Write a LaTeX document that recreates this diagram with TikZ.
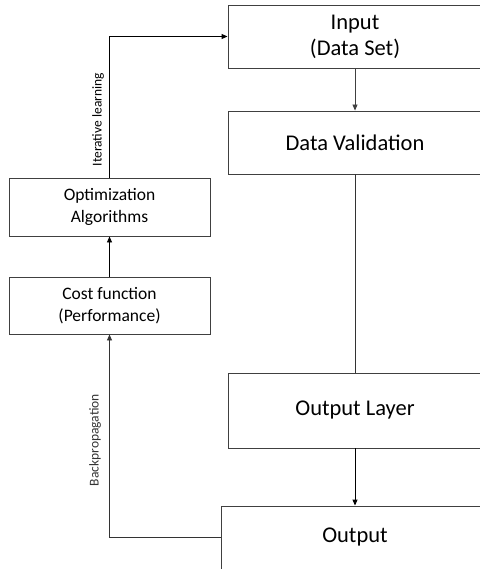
\documentclass[tikz,border=0pt]{standalone}
\usepackage{fontspec}
\setmainfont{Carlito}
\usetikzlibrary{arrows.meta}
\begin{document}
\begin{tikzpicture}[x=1pt, y=-1pt,
    bigbox/.style={draw=black!75, line width=0.9pt, fill=white, minimum width=254pt, minimum height=63pt, align=center, inner sep=0pt, font=\fontsize{22.5}{26}\selectfont},
    smallbox/.style={draw=black!75, line width=0.9pt, fill=white, minimum width=201pt, minimum height=57pt, align=center, inner sep=0pt, font=\fontsize{17.5}{22}\selectfont},
    lbl/.style={rotate=90, inner sep=3pt, font=\fontsize{13.5}{15}\selectfont},
    >={Triangle[length=6pt,width=5pt]}]
\useasboundingbox (0,0) rectangle (479,569);
\node[bigbox] (In)  at (355,36.5)  {Input\\(Data Set)};
\node[bigbox] (DV)  at (355,142.5) {Data Validation};
\node[bigbox, minimum height=75pt] (OL) at (355,410.5) {Output Layer};
\node[bigbox, minimum width=268pt] (Out) at (355,537.5) {Output};
\node[smallbox, minimum height=58pt] (Opt) at (109.5,207) {Optimization\\Algorithms};
\node[smallbox] (Cost) at (109.5,305.5) {Cost function\\(Performance)};

\draw[->, black!75, line width=0.8pt] (In) -- (DV);
\draw[black!80, line width=0.9pt] (DV) -- (OL);
\draw[->, line width=0.9pt] (OL) -- (Out);
\draw[->, line width=0.9pt] (Cost) -- (Opt);
\draw[->, black!80, line width=0.9pt] (Out.west) -| (Cost) node[lbl, pos=0.74, above, inner sep=8pt] {Backpropagation};
\draw[->, line width=0.9pt] (Opt) |- (In.west) node[lbl, pos=0.205, above, inner sep=5pt] {Iterative learning};
\end{tikzpicture}
\end{document}
